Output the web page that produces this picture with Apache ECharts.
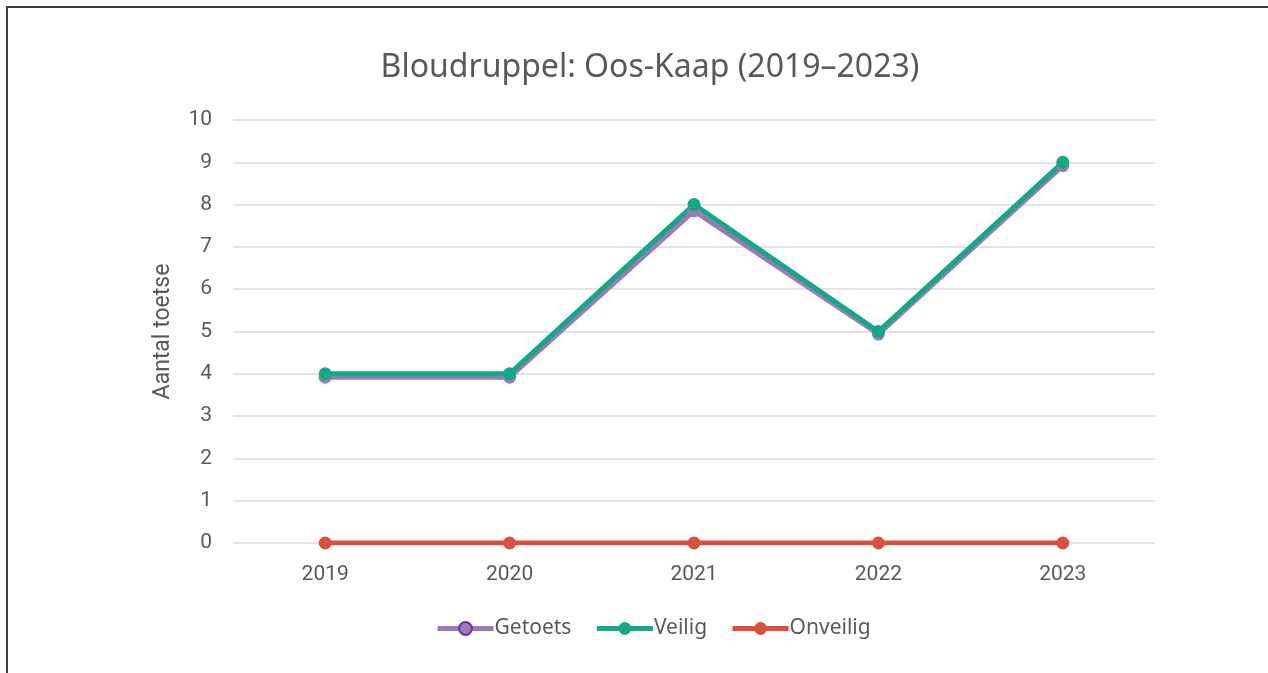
<!DOCTYPE html>
<html>
<head>
<meta charset="utf-8">
<script src="https://cdn.jsdelivr.net/npm/echarts@6/dist/echarts.min.js"></script>
<style>
  html, body { margin: 0; padding: 0; background: #fff; }
  .frame {
    position: absolute; left: 6px; top: 6px;
    width: 1300px; height: 700px;
    border-left: 2px solid #3c3c3c; border-top: 2px solid #3c3c3c;
  }
  #chart { position: absolute; left: 0; top: 0; width: 1268px; height: 673px; }
</style>
</head>
<body>
<div class="frame"></div>
<div id="chart"></div>
<script>
  const years = ['2019', '2020', '2021', '2022', '2023']
  const getoets = [3.92, 3.92, 7.85, 4.94, 8.92]
  const veilig = [4, 4, 8, 5, 9]
  const onveilig = [0, 0, 0, 0, 0]
  const yTicks = [0, 1, 2, 3, 4, 5, 6, 7, 8, 9, 10]

  const purple = '#9c7ab8'
  const green = '#13a886'
  const red = '#d9503f'
  const textColor = '#595959'

  const myChart = echarts.init(document.getElementById('chart'))
  const option = {
    animation: false,
    title: {
      text: 'Bloudruppel: Oos-Kaap (2019–2023)',
      left: 645,
      textAlign: 'center',
      top: 47,
      textStyle: { fontFamily: 'Noto Sans', fontSize: 32, fontWeight: 'normal', color: textColor }
    },
    legend: {
      bottom: 29,
      left: 430,
      itemWidth: 56,
      itemHeight: 16,
      itemGap: 23,
      textStyle: { fontFamily: 'Noto Sans', fontSize: 21, color: textColor, padding: [0, 0, 0, -4] },
      lineStyle: { width: 5 },
      data: [
        { name: 'Getoets', itemStyle: { color: purple, borderColor: '#7030a0', borderWidth: 2 } },
        { name: 'Veilig' },
        { name: 'Onveilig' }
      ]
    },
    grid: { left: 233, right: 113, top: 120, bottom: 130 },
    xAxis: {
      type: 'category',
      data: years,
      axisLine: { show: false },
      axisTick: { show: false },
      axisLabel: { fontFamily: 'Roboto', fontSize: 21, color: textColor, margin: 21 }
    },
    yAxis: {
      type: 'value',
      min: yTicks[0],
      max: yTicks[yTicks.length - 1],
      interval: 1,
      name: 'Aantal toetse',
      nameLocation: 'middle',
      nameGap: 58,
      nameTextStyle: { fontFamily: 'Roboto', fontSize: 23, color: textColor },
      axisLabel: { fontFamily: 'Roboto', fontSize: 21, color: textColor, margin: 21 },
      splitLine: { lineStyle: { color: '#d9d9d9', width: 1.5 } }
    },
    series: [
      {
        name: 'Getoets', type: 'line', data: getoets,
        symbol: 'circle', symbolSize: 13,
        lineStyle: { color: purple, width: 5 },
        itemStyle: { color: purple }
      },
      {
        name: 'Veilig', type: 'line', data: veilig,
        symbol: 'circle', symbolSize: 13,
        lineStyle: { color: green, width: 5 },
        itemStyle: { color: green }
      },
      {
        name: 'Onveilig', type: 'line', data: onveilig,
        symbol: 'circle', symbolSize: 13,
        lineStyle: { color: red, width: 5 },
        itemStyle: { color: red }
      }
    ]
  }
  myChart.setOption(option)
</script>
</body>
</html>
